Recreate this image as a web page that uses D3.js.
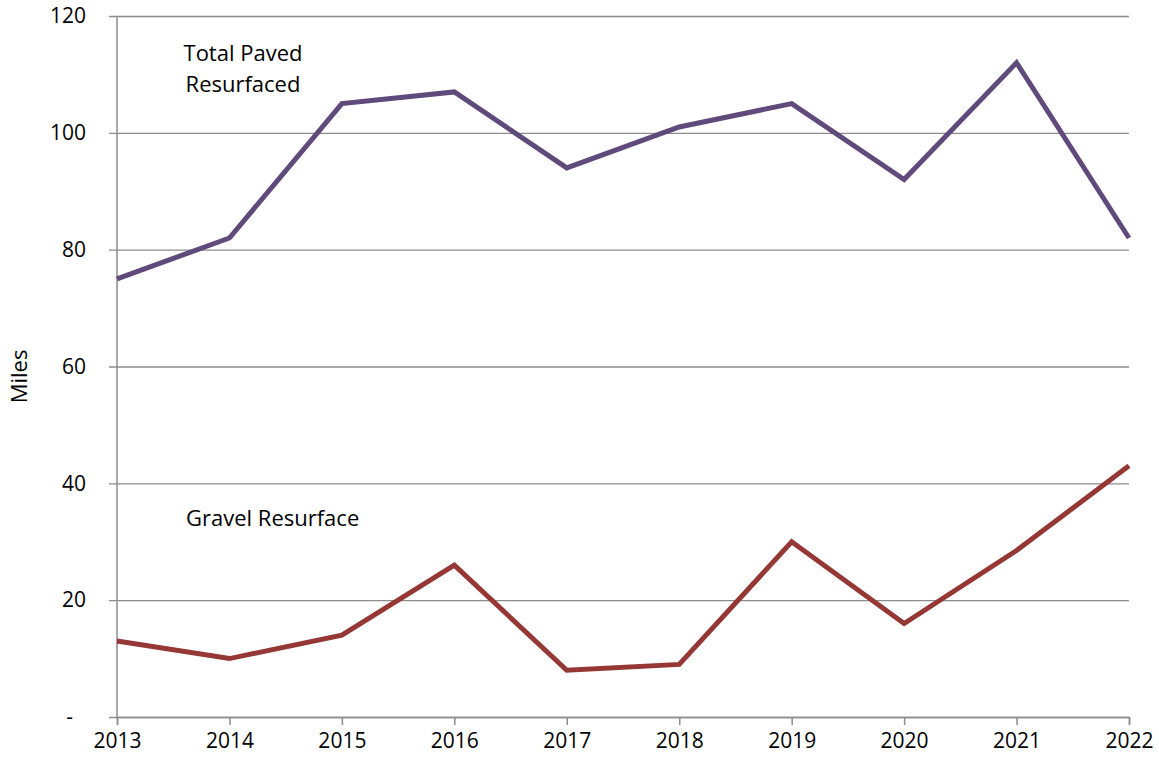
<!DOCTYPE html>
<html>
<head>
<meta charset="utf-8">
<script src="https://cdn.jsdelivr.net/npm/d3@7"></script>
<style>
  body { margin: 0; background: #fff; }
  svg text { font-family: "Open Sans", Lato, sans-serif; fill: #000; }
</style>
</head>
<body>
<div id="chart"></div>
<script>
const years = [2013, 2014, 2015, 2016, 2017, 2018, 2019, 2020, 2021, 2022];
const pavedMiles = [75, 82, 105, 107, 94, 101, 105, 92, 112, 82];
const gravelMiles = [13, 10, 14, 26, 8, 9, 30, 16, 28.5, 43];
const yTicks = [0, 20, 40, 60, 80, 100, 120];

const W = 1159, H = 768;
const m = { top: 16, right: 30, bottom: 51, left: 117 };
const w = W - m.left - m.right;
const h = H - m.top - m.bottom;

const svg = d3.select('#chart').append('svg').attr('width', W).attr('height', H);
const g = svg.append('g').attr('transform', `translate(${m.left},${m.top})`);

const x = d3.scalePoint().domain(years).range([0, w]);
const y = d3.scaleLinear().domain([0, 120]).range([h, 0]);

// grille + axe Y
g.append('g')
  .call(d3.axisLeft(y).tickValues(yTicks).tickSize(-w).tickPadding(29)
    .tickFormat(d => d === 0 ? '-' : d))
  .call(gg => gg.select('.domain').remove())
  .call(gg => gg.selectAll('line').attr('stroke', '#8c8c8c').attr('stroke-width', 1.3)
    .attr('x1', -8))
  .call(gg => gg.selectAll('text').style('font-size', '21px').attr('dx', '-2'))
  .call(gg => gg.selectAll('.tick').filter(d => d === 0).select('text').attr('dx', '-15'));

// axe Y vertical
g.append('line').attr('x1', 0).attr('x2', 0).attr('y1', y(120)).attr('y2', h)
  .attr('stroke', '#8c8c8c').attr('stroke-width', 1.5);

// axe X
g.append('g')
  .attr('transform', `translate(0,${h})`)
  .call(d3.axisBottom(x).tickSize(8).tickPadding(8))
  .call(gg => gg.select('.domain').attr('stroke', '#8c8c8c').attr('stroke-width', 1.5))
  .call(gg => gg.selectAll('line').attr('stroke', '#8c8c8c').attr('stroke-width', 1.5))
  .call(gg => gg.selectAll('text').style('font-size', '21px'));

// titre axe Y
svg.append('text')
  .attr('transform', `translate(27,${m.top + y(60) + 10}) rotate(-90)`)
  .attr('text-anchor', 'middle')
  .style('font-size', '22px')
  .text('Miles');

const line = d3.line().x((d, i) => x(years[i])).y(d => y(d));

g.append('path').datum(pavedMiles)
  .attr('fill', 'none').attr('stroke', '#604a7b').attr('stroke-width', 5)
  .attr('stroke-linejoin', 'miter').attr('d', line);

g.append('path').datum(gravelMiles)
  .attr('fill', 'none').attr('stroke', '#953735').attr('stroke-width', 5)
  .attr('stroke-linejoin', 'miter').attr('d', line);

// étiquettes
const lbl = svg.append('text').attr('text-anchor', 'middle').style('font-size', '22px');
lbl.append('tspan').attr('x', 243).attr('y', 61).text('Total Paved');
lbl.append('tspan').attr('x', 243).attr('y', 92).text('Resurfaced');

svg.append('text').attr('x', 186).attr('y', 526).style('font-size', '22px')
  .text('Gravel Resurface');
</script>
</body>
</html>
